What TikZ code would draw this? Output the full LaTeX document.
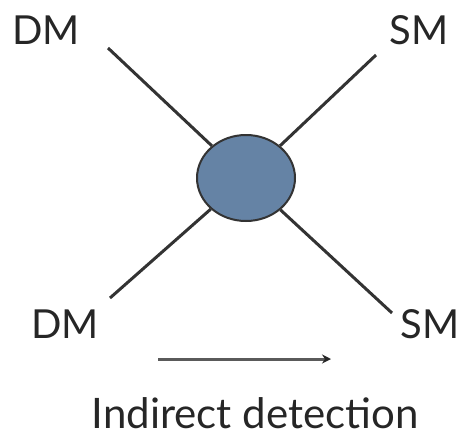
\documentclass[tikz,border=0pt]{standalone}
\usepackage{fontspec}
\setmainfont{Lato}
\usetikzlibrary{shapes.geometric,arrows.meta}
\definecolor{blobfill}{HTML}{6583A5}
\definecolor{linecol}{HTML}{333333}
\definecolor{arrowcol}{HTML}{5A5A5A}
\begin{document}
\begin{tikzpicture}[x=1pt,y=-1pt,
  lbl/.style={inner sep=0pt,font=\fontsize{40}{40}\selectfont,text=black!85},
  leg/.style={draw=linecol,line width=3pt},
  blobstyle/.style={ellipse,draw=linecol,line width=2pt,fill=blobfill,minimum width=98pt,minimum height=86pt,inner sep=0pt}]
\useasboundingbox (0,0) rectangle (463,439);
\node[blobstyle] (blob) at (246,178) {};
\node[lbl] (dmtl) at (46,30) {DM};
\node[lbl] (smtr) at (419,30) {SM};
\node[lbl] (dmbl) at (65,324) {DM};
\node[lbl] (smbr) at (430,324) {SM};
\coordinate (etl) at (108,48);
\coordinate (etr) at (376,55);
\coordinate (ebl) at (110,298);
\coordinate (ebr) at (392,313);
\draw[leg] (etl) -- (blob);
\draw[leg] (etr) -- (blob);
\draw[leg] (ebl) -- (blob);
\draw[leg] (ebr) -- (blob);
\coordinate (as) at (158,359);
\coordinate (ae) at (331,359);
\draw[arrowcol,line width=3pt,-{Stealth[length=9pt,width=9pt,color=black!85]}] (as) -- (ae);
\node[lbl,font=\fontsize{42}{42}\selectfont,anchor=base] (cap) at (255,428) {Indirect detection};
\end{tikzpicture}
\end{document}
